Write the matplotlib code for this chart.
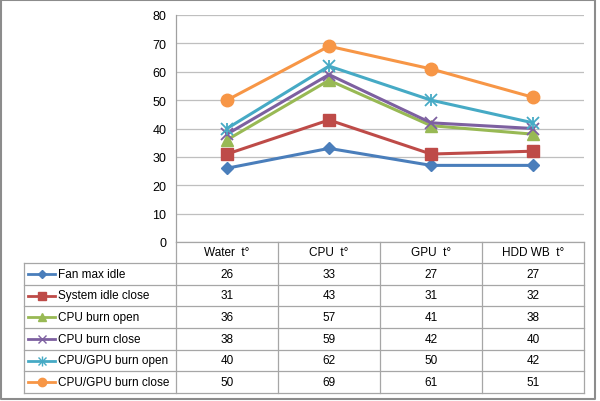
import matplotlib
matplotlib.use("Agg")
import matplotlib.pyplot as plt

categories = ["Water  t°", "CPU  t°", "GPU  t°", "HDD WB  t°"]
series_names = ["Fan max idle", "System idle close", "CPU burn open",
                "CPU burn close", "CPU/GPU burn open", "CPU/GPU burn close"]
fan_max_idle = [26, 33, 27, 27]
system_idle_close = [31, 43, 31, 32]
cpu_burn_open = [36, 57, 41, 38]
cpu_burn_close = [38, 59, 42, 40]
cpugpu_burn_open = [40, 62, 50, 42]
cpugpu_burn_close = [50, 69, 61, 51]
series_values = [fan_max_idle, system_idle_close, cpu_burn_open,
                 cpu_burn_close, cpugpu_burn_open, cpugpu_burn_close]
yticks = [0, 10, 20, 30, 40, 50, 60, 70, 80]

colors = ["#4A7EBB", "#BE4B48", "#98B954", "#7D60A0", "#46AAC5", "#F79646"]
markers = ["D", "s", "^", "x", "*", "o"]
msizes = [6, 9, 9, 8, 9, 9]

plt.rcParams["font.family"] = ["Liberation Sans", "DejaVu Sans"]
W, H = 600, 402
fig = plt.figure(figsize=(6, 4.02), dpi=100)

# pixel layout
L, R, T, B = 176, 584, 16, 243
def fx(x): return x / W
def fy(y): return 1 - y / H

ax = fig.add_axes([fx(L), fy(B), fx(R) - fx(L), fy(T) - fy(B)])
xs = [i + 0.5 for i in range(len(categories))]
for vals, c, m, ms in zip(series_values, colors, markers, msizes):
    if m == "*":
        ax.plot(xs, vals, color=c, lw=2.2, marker="x", ms=8, mew=1.3, zorder=3)
        ax.plot(xs, vals, color=c, lw=0, marker="|", ms=9, mew=1.3, zorder=3)
    elif m == "x":
        ax.plot(xs, vals, color=c, lw=2.2, marker=m, ms=ms, mew=1.3, zorder=3)
    else:
        ax.plot(xs, vals, color=c, lw=2.2, marker=m, ms=ms, zorder=3)
ax.set_xlim(0, 4)
ax.set_ylim(0, 80)
ax.set_yticks(yticks)
ax.tick_params(axis="y", length=0, pad=7, labelsize=9)
ax.set_xticks([])
ax.yaxis.grid(True, color="#BFBFBF", lw=0.9)
ax.set_axisbelow(True)
for s in ["top", "right", "bottom"]:
    ax.spines[s].set_visible(False)
ax.spines["left"].set_color("#A0A0A0")
ax.spines["left"].set_linewidth(0.9)

# table overlay in pixel coordinates
ov = fig.add_axes([0, 0, 1, 1])
ov.set_xlim(0, W)
ov.set_ylim(H, 0)
ov.axis("off")
ov.patch.set_alpha(0)

gc = "#A6A6A6"
col_edges = [L + i * (R - L) / 4 for i in range(5)]
row_top = 264
row_h = (394 - 264) / 6
row_edges = [row_top + i * row_h for i in range(7)]
tl = 24

ov.plot([L, R], [B, B], color=gc, lw=0.9)
for y in row_edges:
    ov.plot([tl, R], [y, y], color=gc, lw=0.9)
ov.plot([tl, tl], [row_top, row_edges[-1]], color=gc, lw=0.9)
for x in col_edges:
    ov.plot([x, x], [B, row_edges[-1]], color=gc, lw=0.9)

for j, cat in enumerate(categories):
    cx = (col_edges[j] + col_edges[j + 1]) / 2
    ov.text(cx, (B + row_top) / 2, cat, ha="center", va="center", fontsize=8.5)

for i, (name, vals, c, m) in enumerate(zip(series_names, series_values, colors, markers)):
    cy = (row_edges[i] + row_edges[i + 1]) / 2
    ov.plot([28, 55], [cy, cy], color=c, lw=2)
    if m == "*":
        ov.plot([41.5], [cy], color=c, marker="x", ms=6, mew=1)
        ov.plot([41.5], [cy], color=c, marker="|", ms=7, mew=1)
    elif m == "x":
        ov.plot([41.5], [cy], color=c, marker="x", ms=6, mew=1)
    else:
        ov.plot([41.5], [cy], color=c, marker=m, ms=6 if m != "D" else 4.5)
    ov.text(58, cy, name, ha="left", va="center", fontsize=8.5)
    for j, v in enumerate(vals):
        cx = (col_edges[j] + col_edges[j + 1]) / 2
        ov.text(cx, cy, str(v), ha="center", va="center", fontsize=8.5)

# outer chart border
ov.plot([1, 595, 595, 1, 1], [1, 1, 400, 400, 1], color="#8C8C8C", lw=1.5)

fig.savefig("out.png", dpi=100)
